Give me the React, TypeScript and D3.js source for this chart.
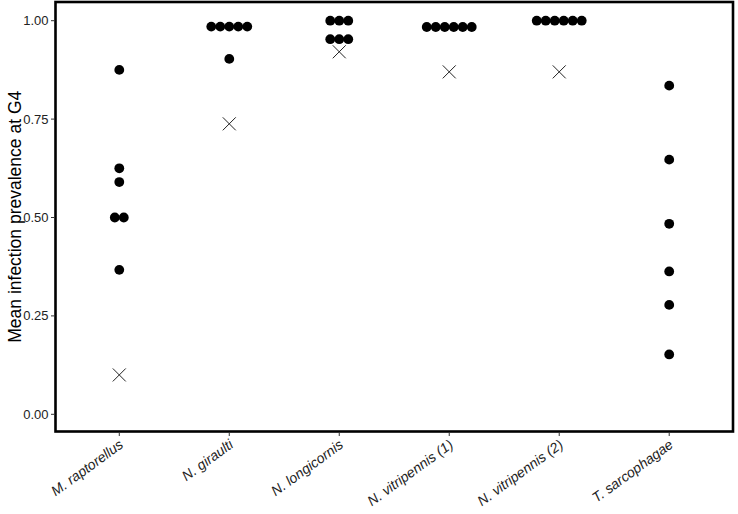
import React from "react";
import * as d3 from "d3";

const categories = [
  "M. raptorellus",
  "N. giraulti",
  "N. longicornis",
  "N. vitripennis (1)",
  "N. vitripennis (2)",
  "T. sarcophagae",
];

const replicateValues: number[][] = [
  [0.875, 0.625, 0.59, 0.5, 0.5, 0.367],
  [0.985, 0.985, 0.985, 0.985, 0.985, 0.903],
  [1.0, 1.0, 1.0, 0.953, 0.953, 0.953],
  [0.984, 0.984, 0.984, 0.984, 0.984, 0.984],
  [1.0, 1.0, 1.0, 1.0, 1.0, 1.0],
  [0.835, 0.647, 0.484, 0.363, 0.278, 0.152],
];

const expectedValues: (number | null)[] = [0.1, 0.738, 0.921, 0.87, 0.87, null];

const yTicks = [0, 0.25, 0.5, 0.75, 1.0];

const W = 738;
const H = 514;
const panel = { left: 55.5, right: 733, top: 2, bottom: 431.5 };

export default function App() {
  const x = d3
    .scalePoint<string>()
    .domain(categories)
    .range([panel.left, panel.right])
    .padding(0.58);
  const y = d3.scaleLinear().domain([0, 1]).range([414.3, 20.7]);

  const r = 4.9;
  const spacing = 9;

  const dots: { cx: number; cy: number; key: string }[] = [];
  categories.forEach((cat, i) => {
    const groups = d3.group(replicateValues[i], (v) => v);
    groups.forEach((vals, v) => {
      const n = vals.length;
      vals.forEach((_, j) => {
        dots.push({
          cx: (x(cat) as number) + (j - (n - 1) / 2) * spacing,
          cy: y(v),
          key: `${i}-${v}-${j}`,
        });
      });
    });
  });

  const crossSize = 6.5;

  return (
    <svg
      width={W}
      height={H}
      style={{ position: "absolute", left: 0, top: 0, background: "#fff" }}
      fontFamily="'Liberation Sans', Arial, sans-serif"
    >
      <rect x={0} y={0} width={W} height={H} fill="#fff" />
      {dots.map((d) => (
        <circle key={d.key} cx={d.cx} cy={d.cy} r={r} fill="#000" />
      ))}
      {expectedValues.map((v, i) => {
        if (v === null) return null;
        const cx = x(categories[i]) as number;
        const cy = y(v);
        return (
          <g key={`x-${i}`} stroke="#222" strokeWidth={1}>
            <line x1={cx - crossSize} y1={cy - crossSize} x2={cx + crossSize} y2={cy + crossSize} />
            <line x1={cx - crossSize} y1={cy + crossSize} x2={cx + crossSize} y2={cy - crossSize} />
          </g>
        );
      })}
      <rect
        x={panel.left}
        y={panel.top}
        width={panel.right - panel.left}
        height={panel.bottom - panel.top}
        fill="none"
        stroke="#000"
        strokeWidth={2.6}
      />
      {yTicks.map((t) => (
        <g key={`yt-${t}`}>
          <line x1={panel.left - 4.5} x2={panel.left - 1.3} y1={y(t)} y2={y(t)} stroke="#333" strokeWidth={1} />
          <text
            x={panel.left - 7}
            y={y(t)}
            dy="0.35em"
            textAnchor="end"
            fontSize={13}
            fill="#222"
          >
            {d3.format(".2f")(t)}
          </text>
        </g>
      ))}
      {categories.map((c) => {
        const cx = x(c) as number;
        return (
          <g key={`xt-${c}`}>
            <line x1={cx} x2={cx} y1={panel.bottom + 1.3} y2={panel.bottom + 4.5} stroke="#333" strokeWidth={1} />
            <text
              transform={`translate(${cx - 1},${panel.bottom + 7}) rotate(-36)`}
              textAnchor="end"
              dy="0.72em"
              fontSize={14}
              fontStyle="italic"
              fill="#222"
            >
              {c}
            </text>
          </g>
        );
      })}
      <text
        transform={`translate(21,${(panel.top + panel.bottom) / 2}) rotate(-90)`}
        textAnchor="middle"
        fontSize={17.5}
        fill="#000"
      >
        Mean infection prevalence at G4
      </text>
    </svg>
  );
}
